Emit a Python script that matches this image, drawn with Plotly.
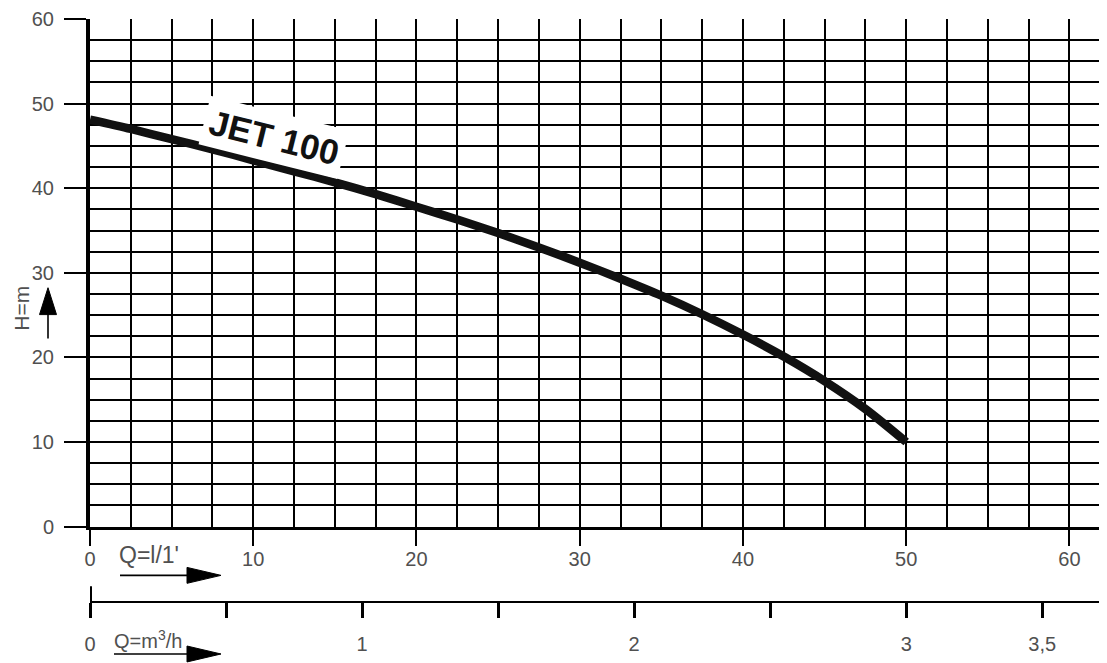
import plotly.graph_objects as go

# ---- data ----
q_lmin = [0, 2.5, 5, 7.5, 10, 12.5, 15, 17.5, 20, 22.5, 25, 27.5, 30, 32.5, 35,
          37.5, 40, 42.5, 45, 47.5, 50]
h_m = [48.1, 47.0, 45.8, 44.6, 43.3, 42.0, 40.7, 39.3, 37.8, 36.3, 34.7, 33.0,
       31.2, 29.3, 27.3, 25.1, 22.7, 20.1, 17.2, 13.9, 10.0]
curve_name = "JET 100"

x_ticks = [0, 10, 20, 30, 40, 50, 60]
x_ticklabels = ["0", "10", "20", "30", "40", "50", "60"]
y_ticks = [0, 10, 20, 30, 40, 50, 60]
m3h_ticks = [0, 0.5, 1, 1.5, 2, 2.5, 3, 3.5]
m3h_ticklabels = ["0", "", "1", "", "2", "", "3", "3,5"]

X_MAX = 62.3          # l/min visible at right edge
LMIN_PER_M3H = 1000 / 60.0

# page body has an 8px default margin -> figure is 8px smaller on each used side
OFF = 8
W, H = 1107 - OFF, 663 - OFF
ML, MR, MT, MB = 90 - OFF, 0, 17 - OFF, 10
paper_w = W - ML - MR
paper_h = H - MT - MB


def py(ref_pix):  # reference pixel row -> paper y
    return (H - MB - (ref_pix - OFF)) / paper_h


def px(ref_pix):  # reference pixel column -> paper x
    return (ref_pix - OFF - ML) / paper_w


grey = "#505050"
font_fam = "Liberation Sans, Arial, sans-serif"

fig = go.Figure()
fig.add_trace(go.Scatter(
    x=q_lmin, y=h_m, mode="lines",
    line=dict(color="#111111", width=8.5, shape="spline", smoothing=0.8),
    hoverinfo="skip", showlegend=False,
))
# invisible trace to anchor the m3/h axis
fig.add_trace(go.Scatter(
    x=[m3h_ticks[0], m3h_ticks[-1]], y=[None, None], xaxis="x2", yaxis="y",
    mode="markers", marker=dict(opacity=0), hoverinfo="skip", showlegend=False,
))

fig.update_layout(
    width=W, height=H,
    margin=dict(l=ML, r=MR, t=MT, b=MB),
    paper_bgcolor="white", plot_bgcolor="white",
    font=dict(family=font_fam, color=grey, size=20),
    xaxis=dict(
        range=[0, X_MAX], domain=[0, 1], anchor="y",
        tickvals=x_ticks, ticktext=x_ticklabels,
        ticks="outside", ticklen=16, tickwidth=1.5, tickcolor="black",
        showgrid=True, gridcolor="black", gridwidth=1.9,
        minor=dict(dtick=2.5, tick0=0, showgrid=True, gridcolor="black", gridwidth=1.9, ticks=""),
        showline=True, linecolor="black", linewidth=3,
        zeroline=False, tickfont=dict(size=20, color=grey),
        ticklabelstandoff=-4, ticklabeloverflow="allow",
    ),
    yaxis=dict(
        range=[0, 60], domain=[py(527), 1],
        tickvals=y_ticks,
        ticks="outside", ticklen=22, tickwidth=1.5, tickcolor="black",
        showgrid=True, gridcolor="black", gridwidth=1.9,
        minor=dict(dtick=2.5, tick0=0, showgrid=True, gridcolor="black", gridwidth=1.9, ticks=""),
        showline=True, linecolor="black", linewidth=4,
        zeroline=False, tickfont=dict(size=20, color=grey),
        ticklabelstandoff=6, ticklabeloverflow="allow",
    ),
    xaxis2=dict(
        range=[0, X_MAX / LMIN_PER_M3H], domain=[0, 1],
        overlaying="x", anchor="free", position=py(603), side="bottom",
        tickvals=m3h_ticks, ticktext=m3h_ticklabels,
        ticks="outside", ticklen=15, tickwidth=3, tickcolor="black",
        showgrid=False, zeroline=False,
        showline=True, linecolor="black", linewidth=2,
        tickfont=dict(size=20, color=grey),
        ticklabelstandoff=9, ticklabeloverflow="allow",
    ),
)

# tall tick at origin of the m3/h scale
fig.add_shape(type="line", xref="x2", yref="paper", x0=0, x1=0,
              y0=py(587), y1=py(618), line=dict(color="black", width=4))

# curve label
fig.add_annotation(
    x=11.3, y=46.0, xref="x", yref="y", text="<b>" + curve_name + "</b>",
    showarrow=False, textangle=14, bgcolor="white", borderpad=5,
    font=dict(family="Liberation Sans, Arial, sans-serif", size=35, color="#111111"),
)

# axis captions
fig.add_annotation(x=px(117), y=py(556), xref="paper", yref="paper", text="Q=l/1'",
                   showarrow=False, xanchor="left", yanchor="middle",
                   font=dict(size=23, color=grey))
fig.add_annotation(x=px(112), y=py(640), xref="paper", yref="paper", text="Q=m<sup>3</sup>/h",
                   showarrow=False, xanchor="left", yanchor="middle",
                   font=dict(size=20, color=grey))
fig.add_annotation(x=px(22), y=py(308), xref="paper", yref="paper", text="H=m",
                   showarrow=False, textangle=-90, font=dict(size=21, color=grey),
                   xanchor="center", yanchor="middle")


# caption arrows (decorations): shaft + narrow filled head
def h_arrow(x0, x1, yy):
    fig.add_shape(type="line", xref="paper", yref="paper",
                  x0=px(x0), x1=px(x1 - 20), y0=py(yy), y1=py(yy),
                  line=dict(color="black", width=1.6))
    path = "M {a},{b} L {c},{d} L {a},{e} Z".format(
        a=px(x1 - 34), b=py(yy - 8), c=px(x1), d=py(yy), e=py(yy + 8))
    fig.add_shape(type="path", xref="paper", yref="paper", path=path,
                  fillcolor="black", line=dict(color="black", width=1))


def v_arrow(xx, y0, y1):
    fig.add_shape(type="line", xref="paper", yref="paper",
                  x0=px(xx), x1=px(xx), y0=py(y0), y1=py(y1 + 20),
                  line=dict(color="black", width=1.6))
    path = "M {a},{b} L {c},{d} L {e},{b} Z".format(
        a=px(xx - 8.5), b=py(y1 + 27), c=px(xx), d=py(y1), e=px(xx + 8.5))
    fig.add_shape(type="path", xref="paper", yref="paper", path=path,
                  fillcolor="black", line=dict(color="black", width=1))


h_arrow(120, 221, 576)
h_arrow(114, 221, 655)
v_arrow(48, 338, 287)

fig.write_html("out.html")
